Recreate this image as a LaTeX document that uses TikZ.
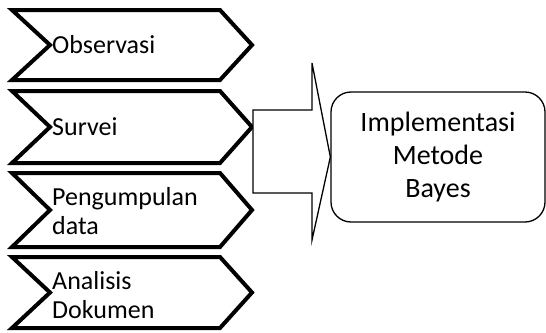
\documentclass[tikz,border=0pt]{standalone}
\usepackage{fontspec}
\setmainfont{Carlito}
\begin{document}
\begin{tikzpicture}[x=1pt,y=-1pt,
  chev/.style={line width=4pt, line join=miter, fill=white},
  lbl/.style={font=\fontsize{26}{29}\selectfont, anchor=west, align=left, inner sep=0pt},
  thin/.style={line width=1.3pt, line join=miter},
  box/.style={draw, line width=1.3pt, rounded corners=20pt, minimum width=214pt, minimum height=130pt,
    align=center, font=\fontsize{28}{33}\selectfont}]
\useasboundingbox (0,0) rectangle (546,332);
% chevrons
\foreach \t/\b/\n in {10/80/c1, 91/163/c2, 173/247/c3, 257/328/c4}{
  \draw[chev] (12,\t) -- (220,\t) -- (252,{(\t+\b)/2}) coordinate (\n tip) -- (220,\b) -- (12,\b) -- (50,{(\t+\b)/2}) -- cycle;
}
\node[lbl] (obs) at (52,45) {Observasi};
\node[lbl] (sur) at (52,127) {Survei};
\node[lbl] (pen) at (52,211) {Pengumpulan\\data};
\node[lbl] (ana) at (52,295) {Analisis\\Dokumen};
% result box
\node[box] (res) at (438,157) {Implementasi\\Metode\\Bayes};
% block arrow
\coordinate (al) at (253,110);
\draw[thin, fill=white] (al) -- (312,110) -- (312,63) -- (res.west) -- (312,240) -- (312,193) -- (253,193) -- cycle;
\end{tikzpicture}
\end{document}
